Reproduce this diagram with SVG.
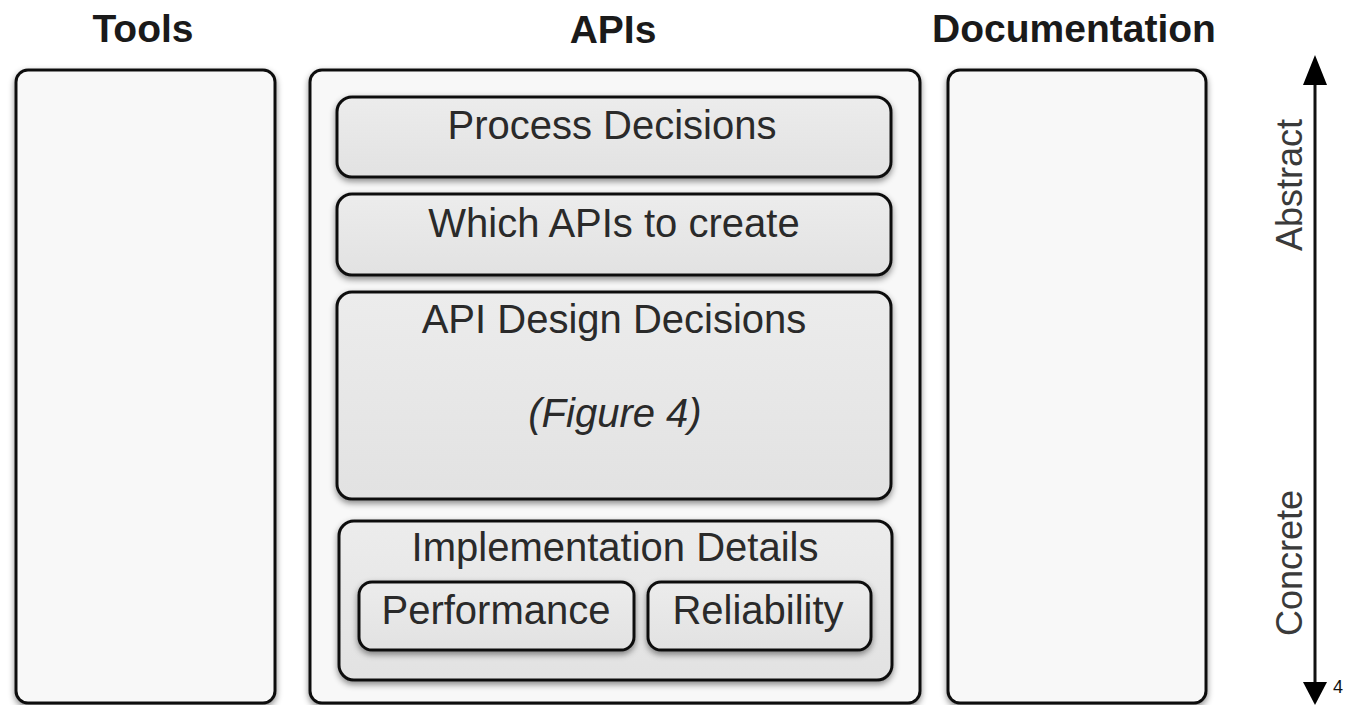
<svg xmlns="http://www.w3.org/2000/svg" width="1348" height="705" viewBox="0 0 1348 705">
  <style>
    .hdr { font-family: "Liberation Sans", Arial, sans-serif; font-weight: bold; font-size: 39px; fill: #1a1a1a; text-anchor: middle; }
    .lbl { font-family: "Liberation Sans", Arial, sans-serif; font-size: 40px; fill: #2a2a2a; text-anchor: middle; }
    .outer { fill: #f8f8f8; stroke: #111; stroke-width: 3; filter: url(#sh); }
    .inner { fill: url(#g); stroke: #111; stroke-width: 3; filter: url(#sh); }
    .axis { font-family: "Liberation Sans", Arial, sans-serif; font-size: 36px; fill: #3a3a3a; text-anchor: middle; }
  </style>
  <defs>
    <filter id="sh" x="-10%" y="-10%" width="120%" height="130%">
      <feDropShadow dx="0" dy="3" stdDeviation="3" flood-color="#000" flood-opacity="0.45"/>
    </filter>
    <linearGradient id="g" x1="0" y1="0" x2="0" y2="1">
      <stop offset="0" stop-color="#ececec"/>
      <stop offset="1" stop-color="#e2e2e2"/>
    </linearGradient>
  </defs>
  <rect width="1348" height="705" fill="#fff"/>

  <g id="tools">
    <rect class="outer" x="16" y="70" width="259" height="633" rx="12"/>
    <text class="hdr" x="143" y="42">Tools</text>
  </g>

  <g id="apis">
    <rect class="outer" x="310" y="70" width="610" height="633" rx="12"/>
    <text class="hdr" x="613" y="43">APIs</text>
  </g>

  <g id="documentation">
    <rect class="outer" x="948" y="70" width="258" height="633" rx="12"/>
    <text class="hdr" x="1074" y="42">Documentation</text>
  </g>

  <g id="process-decisions">
    <rect class="inner" x="337" y="97" width="554" height="80" rx="15"/>
    <text class="lbl" x="612" y="139">Process Decisions</text>
  </g>

  <g id="which-apis">
    <rect class="inner" x="337" y="194" width="554" height="81" rx="15"/>
    <text class="lbl" x="614" y="237">Which APIs to create</text>
  </g>

  <g id="api-design">
    <rect class="inner" x="337" y="292" width="554" height="207" rx="15"/>
    <text class="lbl" x="614" y="333">API Design Decisions</text>
    <text class="lbl" x="615" y="427" font-style="italic">(Figure 4)</text>
  </g>

  <g id="implementation-details">
    <rect class="inner" x="339" y="521" width="553" height="159" rx="15"/>
    <text class="lbl" x="615" y="561">Implementation Details</text>
  </g>

  <g id="performance">
    <rect class="inner" x="359" y="582" width="275" height="68" rx="13"/>
    <text class="lbl" x="496" y="624">Performance</text>
  </g>

  <g id="reliability">
    <rect class="inner" x="648" y="582" width="223" height="68" rx="13"/>
    <text class="lbl" x="758" y="624">Reliability</text>
  </g>

  <g id="connectors">
    <line x1="1315" y1="84" x2="1315" y2="683" stroke="#111" stroke-width="3"/>
    <polygon points="1315,55 1327,85 1303,85" fill="#000"/>
    <polygon points="1315,705 1327,682 1303,682" fill="#000"/>
  </g>

  <g id="axis-labels">
    <text class="axis" transform="translate(1302,185) rotate(-90)">Abstract</text>
    <text class="axis" transform="translate(1302,563) rotate(-90)">Concrete</text>
    <text font-family="Liberation Sans, Arial, sans-serif" font-size="18" fill="#111" x="1333" y="693">4</text>
  </g>
</svg>
